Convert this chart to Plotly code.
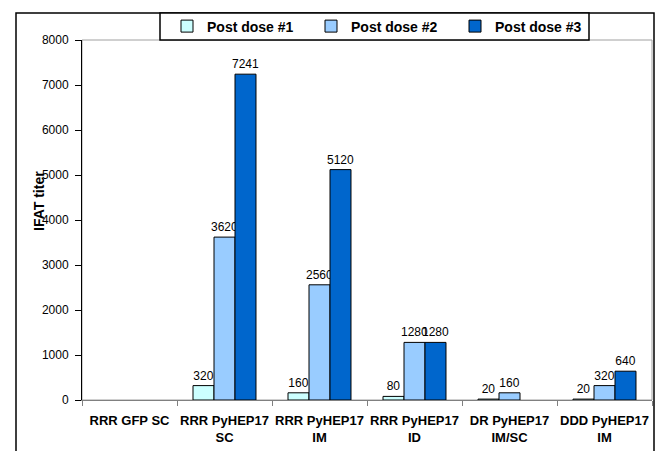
import plotly.graph_objects as go

# Titers after each dose, per vaccine group
groups = [
    "RRR GFP SC",
    "RRR PyHEP17<br>SC",
    "RRR PyHEP17<br>IM",
    "RRR PyHEP17<br>ID",
    "DR PyHEP17<br>IM/SC",
    "DDD PyHEP17<br>IM",
]
dose1 = [None, 320, 160, 80, 20, 20]
dose2 = [None, 3620, 2560, 1280, 160, 320]
dose3 = [None, 7241, 5120, 1280, None, 640]
series_names = ["Post dose #1", "Post dose #2", "Post dose #3"]
y_ticks = [0, 1000, 2000, 3000, 4000, 5000, 6000, 7000, 8000]

colors = ["#CCFFFF", "#99CCFF", "#0066CC"]
FONT = "Liberation Sans, Arial, sans-serif"

W, H = 660, 451
L, R, T, B = 82, 652, 40, 400


def px_x(px):
    return (px - L) / (R - L)


def px_y(py):
    return (B - py) / (B - T)


fig = go.Figure()
for name, vals, col in zip(series_names, [dose1, dose2, dose3], colors):
    fig.add_trace(go.Bar(
        name=name,
        x=groups,
        y=vals,
        marker=dict(color=col, line=dict(color="#000000", width=1)),
        text=["" if v is None else str(v) for v in vals],
        textposition="outside",
        textfont=dict(family=FONT, size=12, color="#000000"),
        cliponaxis=False,
        constraintext="none",
    ))

fig.update_layout(
    width=W, height=H,
    margin=dict(l=L, r=W - R, t=T, b=H - B, pad=0, autoexpand=False),
    paper_bgcolor="white",
    plot_bgcolor="white",
    barmode="group",
    bargap=0.337,
    bargroupgap=0,
    font=dict(family=FONT, color="#000000"),
    showlegend=True,
    legend=dict(
        orientation="h",
        x=px_x(167), xanchor="left",
        y=px_y(26.5), yanchor="middle",
        bgcolor="rgba(0,0,0,0)",
        borderwidth=0,
        font=dict(family=FONT, size=14, weight="bold", color="#000000"),
        entrywidth=99,
        entrywidthmode="pixels",
        traceorder="normal",
    ),
    xaxis=dict(
        type="category",
        automargin=False,
        tickangle=0,
        showline=True, linecolor="#808080", linewidth=1,
        ticks="outside", tickson="boundaries", ticklen=5,
        tickcolor="#808080",
        ticklabelstandoff=8,
        tickfont=dict(family=FONT, size=13, weight="bold", color="#000000"),
        showgrid=False, zeroline=False,
    ),
    yaxis=dict(
        range=[0, 8000],
        automargin=False,
        tickvals=y_ticks,
        showline=True, linecolor="#000000", linewidth=1,
        ticks="outside", ticklen=6, tickcolor="#000000",
        ticklabelstandoff=4,
        tickfont=dict(family=FONT, size=12, color="#000000"),
        showgrid=False, zeroline=False,
    ),
    shapes=[
        # plot area frame
        dict(type="rect", xref="paper", yref="paper", x0=0, x1=1, y0=0, y1=1,
             line=dict(color="#A0A0A0", width=1), layer="below"),
        # outer chart frame
        dict(type="rect", xref="paper", yref="paper",
             x0=px_x(16), x1=px_x(654), y0=px_y(475), y1=px_y(13),
             line=dict(color="#000000", width=1.5), layer="above"),
        # legend box
        dict(type="rect", xref="paper", yref="paper",
             x0=px_x(160), x1=px_x(589), y0=px_y(40), y1=px_y(13),
             line=dict(color="#000000", width=1.5), fillcolor="white",
             layer="above"),
    ],
    annotations=[
        dict(text="IFAT titer", xref="paper", yref="paper",
             x=px_x(39), y=px_y(201), xanchor="center", yanchor="middle",
             textangle=-90, showarrow=False,
             font=dict(family=FONT, size=14, weight="bold", color="#000000")),
    ],
)

fig.write_html("out.html")
